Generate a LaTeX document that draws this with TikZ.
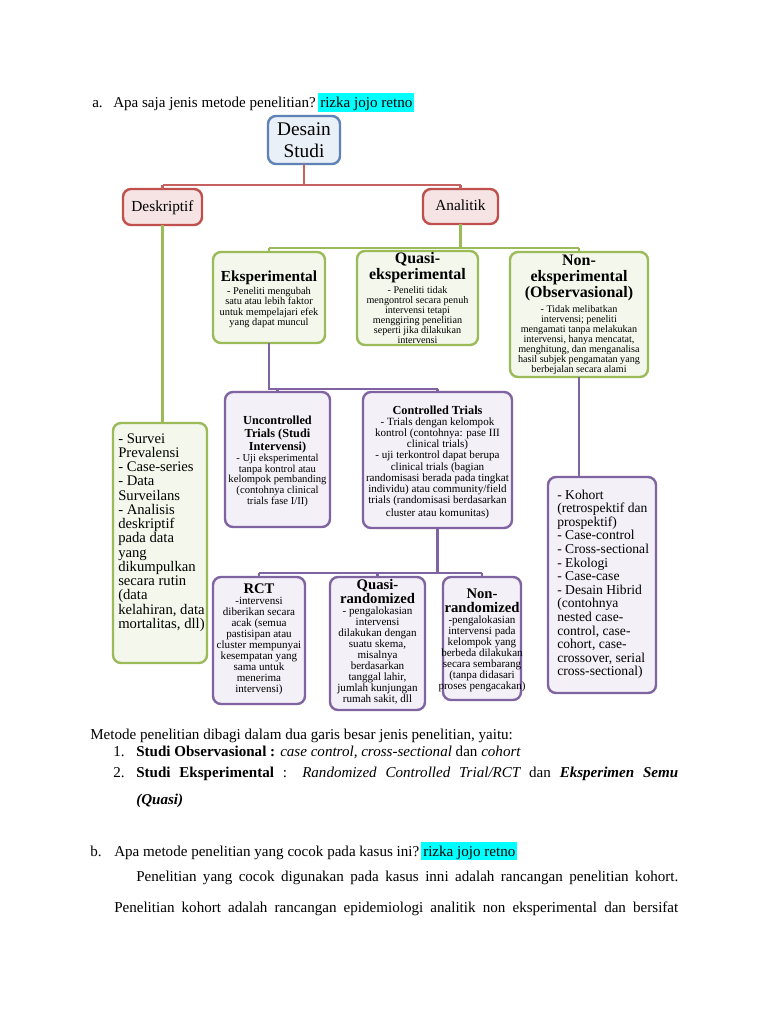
\documentclass[tikz,border=0pt]{standalone}
\usepackage{fontspec}
\setmainfont{Liberation Serif}
\definecolor{bluebd}{HTML}{5E82B5}
\definecolor{bluefl}{HTML}{EAF0F8}
\definecolor{redbd}{HTML}{C0504D}
\definecolor{redfl}{HTML}{F6E3E3}
\definecolor{grnbd}{HTML}{9BBB59}
\definecolor{grnfl}{HTML}{F4F7EC}
\definecolor{purbd}{HTML}{8064A2}
\definecolor{purfl}{HTML}{F3F0F7}
\definecolor{hlcyan}{HTML}{00FFFF}
\newcommand\fz[2]{\fontsize{#1}{#2}\selectfont}
\tikzset{
  boxbase/.style={rounded corners=6pt, line width=1.8pt, inner sep=0pt, outer sep=0pt},
  bluebox/.style={boxbase, draw=bluebd, fill=bluefl},
  redbox/.style={boxbase, draw=redbd, fill=redfl},
  grnbox/.style={boxbase, draw=grnbd, fill=grnfl},
  purbox/.style={boxbase, draw=purbd, fill=purfl},
  conn/.style={line width=2pt},
  redln/.style={conn, draw=redbd!90},
  grnln/.style={conn, draw=grnbd},
  purln/.style={conn, draw=purbd},
  blk/.style={inner sep=0pt, anchor=base, align=flush center, text width=#1},
  lblk/.style={inner sep=0pt, anchor=base west, align=flush left, text width=#1},
  body/.style={inner sep=0pt, anchor=base west, font=\fz{11.3}{13.5}},
  hl/.style={body, fill=hlcyan, inner xsep=1.5pt, inner ysep=0pt, text height=10.5pt, text depth=3pt},
}
\begin{document}
\begin{tikzpicture}[x=0.75pt, y=-0.75pt]
\path[use as bounding box, fill=white] (0,0) rectangle (768,1024);

% ---------- boxes ----------
\node[bluebox, minimum width=54pt, minimum height=36pt] (ds) at (304,140) {};
\node[redbox, minimum width=59.25pt, minimum height=27pt] (desk) at (162.5,207) {};
\node[redbox, minimum width=56.25pt, minimum height=26.25pt] (anal) at (460.5,206.5) {};
\node[grnbox, minimum width=84pt, minimum height=68.25pt] (eks) at (269,297.5) {};
\node[grnbox, minimum width=90.75pt, minimum height=70.5pt] (qe) at (417.5,298) {};
\node[grnbox, minimum width=103.5pt, minimum height=93.75pt] (non) at (579,314.5) {};
\node[grnbox, minimum width=70.5pt, minimum height=180pt] (lft) at (160,543) {};
\node[purbox, minimum width=78.75pt, minimum height=101.25pt] (unc) at (277.5,459.5) {};
\node[purbox, minimum width=111.75pt, minimum height=102pt] (ct) at (437.5,460) {};
\node[purbox, minimum width=81pt, minimum height=162pt] (koh) at (602,585) {};
\node[purbox, minimum width=69pt, minimum height=95.25pt] (rct) at (259,640.5) {};
\node[purbox, minimum width=71.25pt, minimum height=99.75pt] (qr) at (377.5,643.5) {};
\node[purbox, minimum width=58.5pt, minimum height=92.25pt] (nr) at (482,638.5) {};

% ---------- connectors ----------
\coordinate (rbar) at (304,185);
\draw[redln] (ds.south) -- (rbar);
\draw[redln] (desk.north |- rbar) -- (anal.north |- rbar);
\draw[redln] (desk.north |- rbar) -- (desk.north);
\draw[redln] (anal.north |- rbar) -- (anal.north);

\draw[grnln] (desk.south) -- (desk.south |- lft.north);
\coordinate (gbar) at (460.5,248);
\draw[grnln] (anal.south) -- (gbar);
\draw[grnln] (eks.north |- gbar) -- (non.north |- gbar);
\draw[grnln] (eks.north |- gbar) -- (eks.north);
\draw[grnln] (non.north |- gbar) -- (non.north);

\coordinate (pbar) at (269,389);
\draw[purln] (eks.south) -- (pbar) -- (ct.north |- pbar);
\draw[purln] (unc.north |- pbar) -- (unc.north);
\draw[purln] (ct.north |- pbar) -- (ct.north);
\draw[purln] (non.south) -- (non.south |- koh.north);
\coordinate (pbar2) at (437.5,573);
\draw[purln] (ct.south) -- (pbar2);
\draw[purln] (rct.north |- pbar2) -- (nr.north |- pbar2);
\draw[purln] (rct.north |- pbar2) -- (rct.north);
\draw[purln] (qr.north |- pbar2) -- (qr.north);
\draw[purln] (nr.north |- pbar2) -- (nr.north);

% ---------- box texts ----------
\node[blk=100pt] (dsT) at (304,135) {\fz{14.5}{16.5}Desain\\Studi\par};
\node[blk=100pt, font=\fz{11.5}{12}] (deskT) at (162.5,211) {Deskriptif};
\node[blk=100pt, font=\fz{11.5}{12}] (analT) at (460.5,210.5) {Analitik};

\node[blk=140pt] (eksT) at (269,281) {\fz{11.5}{12}\bfseries Eksperimental\par\vspace{1.2pt}
  \fz{7.8}{7.8}\mdseries - Peneliti mengubah\\satu atau lebih faktor\\untuk mempelajari efek\\yang dapat muncul\par};
\node[blk=140pt] (qeT) at (417.5,263) {\fz{12}{12}\bfseries Quasi-\\eksperimental\par\vspace{2.2pt}
  \fz{7.6}{7.5}\mdseries - Peneliti tidak\\mengontrol secara penuh\\intervensi tetapi\\menggiring penelitian\\seperti jika dilakukan\\intervensi\par};
\node[blk=140pt] (nonT) at (579,265) {\fz{12}{12.2}\bfseries Non-\\eksperimental\\(Observasional)\par\vspace{2.3pt}
  \fz{7.6}{7.5}\mdseries - Tidak melibatkan\\intervensi; peneliti\\mengamati tanpa melakukan\\intervensi, hanya mencatat,\\menghitung, dan menganalisa\\hasil subjek pengamatan yang\\berbejalan secara alami\par};

\node[lblk=100pt] (lftT) at (118,443) {\fz{11}{10.7}- Survei\\Prevalensi\\- Case-series\\- Data\\Surveilans\\- Analisis\\deskriptif\\pada data\\yang\\dikumpulkan\\secara rutin\\(data\\kelahiran, data\\mortalitas, dll)\par};

\node[blk=140pt] (uncT) at (277.5,424) {\fz{9.2}{10.1}\bfseries Uncontrolled\\Trials (Studi\\Intervensi)\par
  \fz{8}{8}\mdseries - Uji eksperimental\\tanpa kontrol atau\\kelompok pembanding\\(contohnya clinical\\trials fase I/II)\par};
\node[blk=160pt] (ctT) at (437.5,414) {\fz{9.2}{9.75}\bfseries Controlled Trials\par
  \fz{8.3}{8.4}\mdseries - Trials dengan kelompok\\kontrol (contohnya: pase III\\clinical trials)\\- uji terkontrol dapat berupa\\clinical trials (bagian\\randomisasi berada pada tingkat\\individu) atau community/field\\trials (randomisasi berdasarkan\\[1pt]cluster atau komunitas)\par};

\node[lblk=100pt] (kohT) at (557,499) {\fz{10.2}{10.2}- Kohort\\(retrospektif dan\\prospektif)\\- Case-control\\- Cross-sectional\\- Ekologi\\- Case-case\\- Desain Hibrid\\(contohnya\\nested case-\\control, case-\\cohort, case-\\crossover, serial\\cross-sectional)\par};

\node[blk=120pt] (rctT) at (259,593) {\fz{11}{11}\bfseries RCT\par
  \fz{8.3}{8.25}\mdseries -intervensi\\diberikan secara\\acak (semua\\pastisipan atau\\cluster mempunyai\\kesempatan yang\\sama untuk\\menerima\\intervensi)\par};
\node[blk=120pt] (qrT) at (377.5,589) {\fz{11}{10.5}\bfseries Quasi-\\randomized\par
  \fz{8.3}{8.25}\mdseries - pengalokasian\\intervensi\\dilakukan dengan\\suatu skema,\\misalnya\\berdasarkan\\tanggal lahir,\\jumlah kunjungan\\rumah sakit, dll\par};
\node[blk=120pt] (nrT) at (482,598) {\fz{11}{10.5}\bfseries Non-\\randomized\par
  \fz{8.3}{8.25}\mdseries -pengalokasian\\intervensi pada\\kelompok yang\\berbeda dilakukan\\secara sembarang\\(tanpa didasari\\proses pengacakan)\par};

% ---------- page text ----------
\node[body] (qa) at (92,107.5) {a.};
\node[body] (qaT) at (113,107.5) {Apa saja jenis metode penelitian?};
\node[hl] (qaH) at (318,107.5) {rizka jojo retno};

\node[body] (p1) at (90,739.5) {Metode penelitian dibagi dalam dua garis besar jenis penelitian, yaitu:};
\node[body] (n1) at (113,756.5) {1.};
\node[body] (i1) at (136,756.5) {\bfseries Studi Observasional :\mdseries{} \itshape case control, cross-sectional\upshape{} dan \itshape cohort};
\node[body] (n2) at (113,777.5) {2.};
\node[body] (i2) at (136,777.5) {\makebox[406.5pt][s]{\bfseries Studi Eksperimental \mdseries : \itshape Randomized Controlled Trial/RCT \upshape dan \bfseries\itshape Eksperimen Semu}};
\node[body] (i2b) at (136,804.5) {\bfseries\itshape (Quasi)};

\node[body] (qb) at (90,856) {b.};
\node[body] (qbT) at (114,856) {Apa metode penelitian yang cocok pada kasus ini?};
\node[hl] (qbH) at (421,856) {rizka jojo retno};
\node[body] (p2) at (136,881.5) {\makebox[406.5pt][s]{Penelitian yang cocok digunakan pada kasus inni adalah rancangan penelitian kohort.}};
\node[body] (p3) at (114,912.5) {\makebox[423pt][s]{Penelitian kohort adalah rancangan epidemiologi analitik non eksperimental dan bersifat}};
\end{tikzpicture}
\end{document}
